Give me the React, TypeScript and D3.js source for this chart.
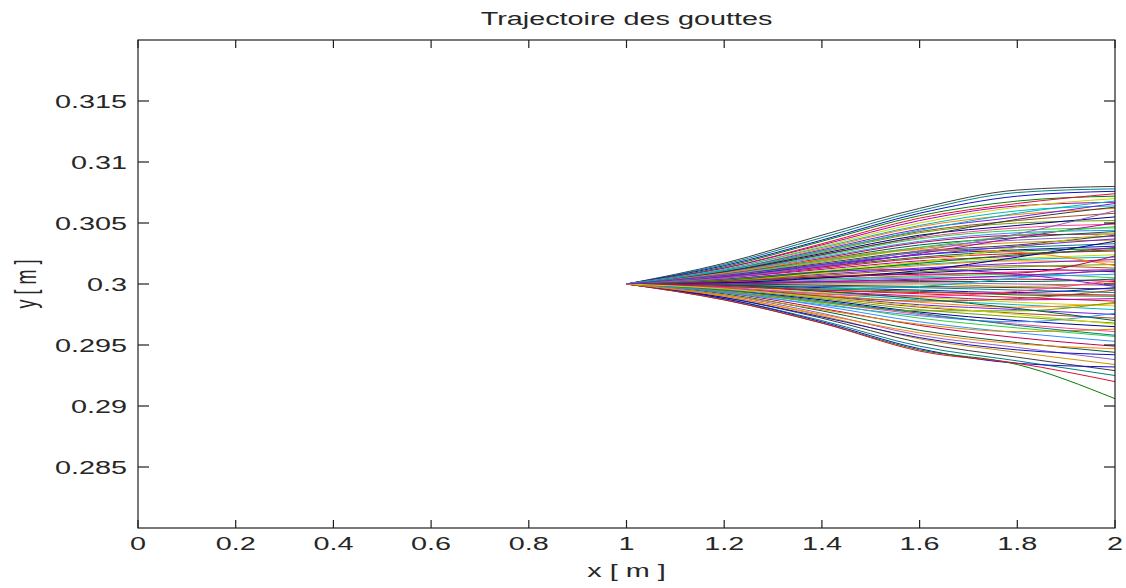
import React from "react";
import * as d3 from "d3";

const TITLE = "Trajectoire des gouttes";
const X_LABEL = "x [ m ]";
const Y_LABEL = "y [ m ]";

const xTicks = [0, 0.2, 0.4, 0.6, 0.8, 1, 1.2, 1.4, 1.6, 1.8, 2];
const xTickLabels = ["0", "0.2", "0.4", "0.6", "0.8", "1", "1.2", "1.4", "1.6", "1.8", "2"];
const yTicks = [0.285, 0.29, 0.295, 0.3, 0.305, 0.31, 0.315];
const yTickLabels = ["0.285", "0.29", "0.295", "0.3", "0.305", "0.31", "0.315"];

// x positions of the sampled points of each trajectory
const xKnots = [1, 1.2, 1.4, 1.6, 1.8, 2.0];

// y values of each trajectory at xKnots
const trajectories: number[][] = [
  [0.3, 0.3017, 0.304, 0.3062, 0.3077, 0.308],
  [0.3, 0.3016, 0.3038, 0.306, 0.3075, 0.3078],
  [0.3, 0.3015, 0.3036, 0.3058, 0.3072, 0.3076],
  [0.3, 0.3014, 0.3035, 0.3056, 0.3068, 0.3072],
  [0.3, 0.3013, 0.3033, 0.3054, 0.3066, 0.3074],
  [0.3, 0.3013, 0.3032, 0.3052, 0.3064, 0.3067],
  [0.3, 0.3012, 0.3031, 0.305, 0.3063, 0.307],
  [0.3, 0.3012, 0.303, 0.3048, 0.306, 0.3064],
  [0.3, 0.3011, 0.3029, 0.3047, 0.3057, 0.3062],
  [0.3, 0.3011, 0.3028, 0.3045, 0.3055, 0.3066],
  [0.3, 0.301, 0.3027, 0.3043, 0.3052, 0.3058],
  [0.3, 0.301, 0.3026, 0.3042, 0.305, 0.3052],
  [0.3, 0.301, 0.3025, 0.304, 0.3048, 0.3055],
  [0.3, 0.3009, 0.3024, 0.3038, 0.3046, 0.3049],
  [0.3, 0.3009, 0.3023, 0.3037, 0.3044, 0.3046],
  [0.3, 0.3009, 0.3022, 0.3035, 0.3042, 0.3044],
  [0.3, 0.3008, 0.3021, 0.3034, 0.304, 0.3041],
  [0.3, 0.3008, 0.302, 0.3032, 0.3038, 0.3043],
  [0.3, 0.3008, 0.3019, 0.303, 0.3036, 0.3039],
  [0.3, 0.3007, 0.3018, 0.3029, 0.3034, 0.3036],
  [0.3, 0.3007, 0.3017, 0.3027, 0.3032, 0.304],
  [0.3, 0.3006, 0.3016, 0.3026, 0.303, 0.3033],
  [0.3, 0.3006, 0.3015, 0.3024, 0.3028, 0.3031],
  [0.3, 0.3006, 0.3014, 0.3022, 0.3027, 0.3029],
  [0.3, 0.3005, 0.3013, 0.3021, 0.3025, 0.3027],
  [0.3, 0.3005, 0.3012, 0.3019, 0.3023, 0.303],
  [0.3, 0.3004, 0.3011, 0.3018, 0.3021, 0.3024],
  [0.3, 0.3004, 0.301, 0.3016, 0.302, 0.3022],
  [0.3, 0.3004, 0.3009, 0.3015, 0.3019, 0.3018],
  [0.3, 0.3003, 0.3008, 0.3013, 0.3017, 0.302],
  [0.3, 0.3003, 0.3007, 0.3012, 0.3015, 0.3013],
  [0.3, 0.3003, 0.3006, 0.301, 0.3014, 0.3016],
  [0.3, 0.3002, 0.3005, 0.3009, 0.3012, 0.301],
  [0.3, 0.3002, 0.3004, 0.3007, 0.301, 0.3012],
  [0.3, 0.3002, 0.3004, 0.3006, 0.3008, 0.3005],
  [0.3, 0.3001, 0.3003, 0.3005, 0.3006, 0.3008],
  [0.3, 0.3001, 0.3002, 0.3003, 0.3004, 0.3002],
  [0.3, 0.3001, 0.3001, 0.3002, 0.3002, 0.3004],
  [0.3, 0.3, 0.3001, 0.3001, 0.3, 0.2999],
  [0.3, 0.3, 0.3, 0.3, 0.2998, 0.3001],
  [0.3, 0.3, 0.2999, 0.2998, 0.2997, 0.2996],
  [0.3, 0.2999, 0.2998, 0.2997, 0.2995, 0.2993],
  [0.3, 0.2999, 0.2997, 0.2995, 0.2993, 0.2997],
  [0.3, 0.2999, 0.2996, 0.2994, 0.2991, 0.299],
  [0.3, 0.2998, 0.2995, 0.2992, 0.2989, 0.2986],
  [0.3, 0.2998, 0.2994, 0.299, 0.2987, 0.2988],
  [0.3, 0.2998, 0.2993, 0.2989, 0.2985, 0.2982],
  [0.3, 0.2997, 0.2992, 0.2987, 0.2983, 0.2979],
  [0.3, 0.2997, 0.2991, 0.2985, 0.2981, 0.2984],
  [0.3, 0.2997, 0.299, 0.2983, 0.2979, 0.2975],
  [0.3, 0.2996, 0.2989, 0.2981, 0.2976, 0.2972],
  [0.3, 0.2996, 0.2988, 0.2979, 0.2973, 0.2968],
  [0.3, 0.2995, 0.2987, 0.2977, 0.297, 0.2965],
  [0.3, 0.2995, 0.2985, 0.2975, 0.2967, 0.2961],
  [0.3, 0.2994, 0.2984, 0.2972, 0.2964, 0.2957],
  [0.3, 0.2994, 0.2982, 0.2969, 0.296, 0.2953],
  [0.3, 0.2993, 0.298, 0.2966, 0.2956, 0.2949],
  [0.3, 0.2992, 0.2978, 0.2962, 0.2952, 0.2944],
  [0.3, 0.2991, 0.2976, 0.2958, 0.2948, 0.2938],
  [0.3, 0.299, 0.2974, 0.2955, 0.2944, 0.2934],
  [0.3, 0.2989, 0.2972, 0.2952, 0.294, 0.2929],
  [0.3, 0.2988, 0.297, 0.2949, 0.2937, 0.2925],
  [0.3, 0.2988, 0.2969, 0.2947, 0.2935, 0.2932],
  [0.3, 0.2987, 0.2968, 0.2946, 0.2934, 0.2906],
  [0.3, 0.2987, 0.2968, 0.2945, 0.2935, 0.292],
  [0.3, 0.3006, 0.3014, 0.3025, 0.3038, 0.305],
  [0.3, 0.3003, 0.3009, 0.3018, 0.303, 0.3042],
  [0.3, 0.2998, 0.2996, 0.2998, 0.3005, 0.3012],
  [0.3, 0.3009, 0.302, 0.3028, 0.3026, 0.3015],
  [0.3, 0.3004, 0.301, 0.3012, 0.3008, 0.2998],
  [0.3, 0.2996, 0.299, 0.2986, 0.2988, 0.2995],
  [0.3, 0.2994, 0.2985, 0.2978, 0.2978, 0.2985],
  [0.3, 0.3001, 0.3005, 0.3011, 0.3022, 0.3035],
  [0.3, 0.2997, 0.2992, 0.299, 0.2994, 0.3003],
  [0.3, 0.3007, 0.3019, 0.303, 0.304, 0.3047],
  [0.3, 0.2993, 0.2983, 0.2974, 0.2969, 0.2976],
  [0.3, 0.3002, 0.3006, 0.3008, 0.3009, 0.3023],
  [0.3, 0.2999, 0.2994, 0.2988, 0.298, 0.297],
  [0.3, 0.3005, 0.3015, 0.3027, 0.3041, 0.306],
  [0.3, 0.2991, 0.2979, 0.2967, 0.2961, 0.2963],
  [0.3, 0.301, 0.3024, 0.3039, 0.3053, 0.3063],
  [0.3, 0.2995, 0.2986, 0.2976, 0.2966, 0.2958],
  [0.3, 0.2989, 0.2973, 0.2956, 0.2946, 0.2942],
  [0.3, 0.3003, 0.301, 0.3017, 0.3024, 0.3028],
  [0.3, 0.2998, 0.2995, 0.2993, 0.2992, 0.2991],
  [0.3, 0.3, 0.3002, 0.3004, 0.3007, 0.3011],
  [0.3, 0.2996, 0.2989, 0.2982, 0.2975, 0.2967],
  [0.3, 0.3011, 0.3027, 0.3044, 0.3058, 0.3068],
  [0.3, 0.299, 0.2975, 0.296, 0.2951, 0.2947],
  [0.3, 0.3007, 0.3016, 0.3024, 0.3031, 0.3037],
];

const lineColors = [
  "#3c3c3c", "#008080", "#1010c8", "#008000", "#e01030", "#b000b0",
  "#c8d800", "#00b8c0", "#ff8000", "#7020e0", "#a05020", "#70a000",
  "#000090", "#ff4090", "#30d040", "#3090ff", "#c00050", "#006040",
  "#9060c0", "#d09000",
];

const W = 1126;
const H = 588;
const FONT = "'Liberation Sans', Arial, Helvetica, sans-serif";
const TEXT_COLOR = "#262626";

function StretchText(props: {
  x: number;
  y: number;
  text: string;
  anchor?: string;
  size?: number;
  rotate?: number;
}) {
  const { x, y, text, anchor = "middle", size = 18, rotate = 0 } = props;
  return (
    <text
      transform={`translate(${x},${y}) scale(1.6,1) rotate(${rotate})`}
      textAnchor={anchor}
      fontFamily={FONT}
      fontSize={size}
      fill={TEXT_COLOR}
    >
      {text}
    </text>
  );
}

export default function App() {
  const x = d3.scaleLinear().domain([0, 2]).range([138, 1115]);
  const y = d3.scaleLinear().domain([0.28, 0.32]).range([528, 40]);
  const [x0, x1] = x.range();
  const [y0, y1] = y.range();

  const line = d3
    .line<number>()
    .x((_, i) => x(xKnots[i]))
    .y((d) => y(d))
    .curve(d3.curveMonotoneX);

  const xTickLen = 8;
  const yTickLen = 11;
  const axisColor = "#202020";

  return (
    <svg
      width={W}
      height={H}
      style={{ position: "absolute", left: 0, top: 0, background: "#fff" }}
    >
      <rect x={0} y={0} width={W} height={H} fill="#fff" />
      <defs>
        <clipPath id="plotClip">
          <rect x={x0} y={y1} width={x1 - x0} height={y0 - y1} />
        </clipPath>
      </defs>
      <g clipPath="url(#plotClip)">
        {trajectories.map((t, i) => (
          <path
            key={i}
            d={line(t) || ""}
            fill="none"
            stroke={lineColors[i % lineColors.length]}
            strokeWidth={1}
          />
        ))}
      </g>

      {/* axes box */}
      <rect
        x={x0}
        y={y1}
        width={x1 - x0}
        height={y0 - y1}
        fill="none"
        stroke={axisColor}
        strokeWidth={1.2}
      />

      {/* x ticks */}
      {xTicks.map((t, i) => (
        <g key={"xt" + i}>
          <line x1={x(t)} x2={x(t)} y1={y0} y2={y0 - xTickLen} stroke={axisColor} strokeWidth={1.2} />
          <line x1={x(t)} x2={x(t)} y1={y1} y2={y1 + xTickLen} stroke={axisColor} strokeWidth={1.2} />
          <StretchText x={x(t)} y={y0 + 22} text={xTickLabels[i]} />
        </g>
      ))}

      {/* y ticks */}
      {yTicks.map((t, i) => (
        <g key={"yt" + i}>
          <line x1={x0} x2={x0 + yTickLen} y1={y(t)} y2={y(t)} stroke={axisColor} strokeWidth={1.2} />
          <line x1={x1} x2={x1 - yTickLen} y1={y(t)} y2={y(t)} stroke={axisColor} strokeWidth={1.2} />
          <StretchText x={x0 - 11} y={y(t) + 6.5} text={yTickLabels[i]} anchor="end" />
        </g>
      ))}

      <StretchText x={(x0 + x1) / 2} y={25} text={TITLE} />
      <StretchText x={(x0 + x1) / 2} y={577} text={X_LABEL} />
      <StretchText x={36} y={(y0 + y1) / 2} text={Y_LABEL} rotate={-90} />
    </svg>
  );
}
